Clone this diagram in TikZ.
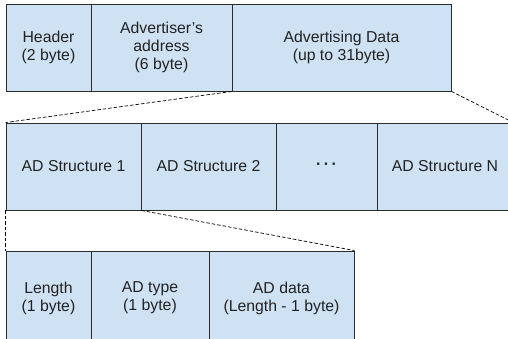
\documentclass[tikz,border=0pt]{standalone}
\usepackage{fontspec}
\setmainfont{Liberation Sans}
\definecolor{cellfill}{HTML}{CFE2F3}
\definecolor{cellline}{HTML}{2B2B2B}
\definecolor{txt}{HTML}{222222}
\begin{document}
\begin{tikzpicture}[x=1pt,y=-1pt,
  cell/.style={draw=cellline,fill=cellfill,line width=0.9pt,inner sep=0pt,
    text=txt,align=center,font=\fontsize{15.8}{18}\selectfont},
  zoomline/.style={draw=black,line width=0.7pt,dash pattern=on 3.5pt off 2pt}]
\useasboundingbox (0,0) rectangle (508,338);
\clip (0,0) rectangle (508,338);
% top row
\node[cell,minimum width=85,minimum height=87] (hdr) at (48.5,47.5) {Header\\(2 byte)};
\node[cell,minimum width=141,minimum height=87] (addr) at (161.5,47.5) {Advertiser’s\\address\\(6 byte)};
\node[cell,minimum width=219,minimum height=87] (data) at (341.5,47.5) {Advertising Data\\(up to 31byte)};
% middle row
\node[cell,minimum width=135,minimum height=87] (ad1) at (73.5,166.5) {AD Structure 1};
\node[cell,minimum width=135,minimum height=87] (ad2) at (208.5,166.5) {AD Structure 2};
\node[cell,minimum width=101,minimum height=87] (adx) at (326.5,166.5) {\textbf{·\kern2.5pt·\kern2.5pt·}};
\node[cell,minimum width=136,minimum height=87] (adn) at (445,166.5) {AD Structure N};
% bottom row
\node[cell,minimum width=85,minimum height=94] (len) at (48.5,298) {Length\\(1 byte)};
\node[cell,minimum width=118,minimum height=94] (typ) at (150,298) {AD type\\(1 byte)};
\node[cell,minimum width=145,minimum height=94] (adt) at (281.5,298) {AD data\\(Length - 1 byte)};
% zoom connectors
\draw[zoomline] (data.south west) -- (ad1.north west);
\draw[zoomline] (data.south east) -- (adn.north east);
\draw[zoomline] (ad1.south west) -- (len.north west);
\draw[zoomline] (ad1.south east) -- (adt.north east);
\end{tikzpicture}
\end{document}
